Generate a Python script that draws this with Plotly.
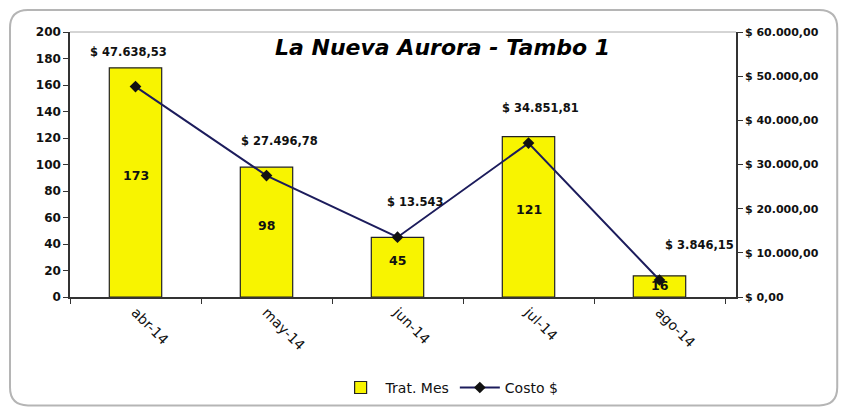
import plotly.graph_objects as go

months = ["abr-14", "may-14", "jun-14", "jul-14", "ago-14"]
trat_mes = [173, 98, 45, 121, 16]
costo = [47638.53, 27496.78, 13543, 34851.81, 3846.15]
costo_labels = ["$ 47.638,53", "$ 27.496,78", "$ 13.543", "$ 34.851,81", "$ 3.846,15"]
left_ticks = [0, 20, 40, 60, 80, 100, 120, 140, 160, 180, 200]
right_ticks = [0, 10000, 20000, 30000, 40000, 50000, 60000]
right_tick_text = ["$ 0,00", "$ 10.000,00", "$ 20.000,00", "$ 30.000,00",
                   "$ 40.000,00", "$ 50.000,00", "$ 60.000,00"]
title_text = "La Nueva Aurora - Tambo 1"

FONT = "DejaVu Sans, Verdana, sans-serif"
AX = "#333333"

fig = go.Figure()
fig.add_trace(go.Bar(
    x=months, y=trat_mes, name="Trat. Mes",
    marker=dict(color="#f8f400", line=dict(color="#222222", width=1.2)),
    yaxis="y",
))
fig.add_trace(go.Scatter(
    x=months, y=costo, name="Costo $", mode="lines+markers",
    line=dict(color="#1c1c5c", width=2),
    marker=dict(symbol="diamond", size=9, color="#111111"),
    yaxis="y2",
))

# bar value labels near bar middle
for m, v in zip(months, trat_mes):
    fig.add_annotation(x=m, y=v / 2, yref="y", text=str(v), showarrow=False,
                       yshift=7 if v > 30 else 1,
                       font=dict(family=FONT, size=12.5, color="#111111", weight="bold"))

xshifts = [-7, 13, 17, 12, 40]
for m, c, t, xs in zip(months, costo, costo_labels, xshifts):
    fig.add_annotation(x=m, y=c, yref="y2", text=t, showarrow=False,
                       xshift=xs, yshift=35,
                       font=dict(family=FONT, size=11.5, color="#111111", weight="bold"))

fig.add_annotation(x=0.56, y=1.0, xref="paper", yref="paper", text=title_text,
                   showarrow=False, yanchor="top", yshift=-1,
                   font=dict(family=FONT, size=22, color="#000000", weight="bold", style="italic"))

# top border line of plot area
fig.add_shape(type="line", xref="paper", yref="paper", x0=0, x1=1, y0=1, y1=1,
              line=dict(color="#aaaaaa", width=1))
# outer rounded frame
x0, x1, y0, y1 = -0.0901, 1.152, -0.409, 1.083
rx, ry = 0.027, 0.068
path = (f"M {x0+rx},{y1} L {x1-rx},{y1} Q {x1},{y1} {x1},{y1-ry} "
        f"L {x1},{y0+ry} Q {x1},{y0} {x1-rx},{y0} L {x0+rx},{y0} "
        f"Q {x0},{y0} {x0},{y0+ry} L {x0},{y1-ry} Q {x0},{y1} {x0+rx},{y1} Z")
fig.add_shape(type="path", xref="paper", yref="paper", path=path,
              line=dict(color="#b5b5b5", width=2))

fig.update_layout(
    width=831, height=399,
    margin=dict(l=62, r=103, t=24, b=110, autoexpand=False),
    paper_bgcolor="white", plot_bgcolor="white",
    bargap=0.6,
    font=dict(family=FONT, size=12, color="#111111"),
    xaxis=dict(showline=True, linecolor=AX, linewidth=1.5, ticks="outside",
               tickson="boundaries",
               tickcolor=AX, ticklen=5, tickangle=45, showgrid=False, automargin=False,
               tickfont=dict(family=FONT, size=14, color="#111111")),
    yaxis=dict(range=[0, 200], tickvals=left_ticks, showline=True, linecolor=AX,
               linewidth=1.5, ticks="outside", tickcolor=AX, ticklen=5,
               showgrid=False, zeroline=False, automargin=False,
               tickfont=dict(family=FONT, size=12, color="#111111", weight="bold")),
    yaxis2=dict(range=[0, 60000], tickvals=right_ticks, ticktext=right_tick_text,
                overlaying="y", side="right", showline=True, linecolor=AX,
                linewidth=1.5, ticks="outside", tickcolor=AX, ticklen=5,
                showgrid=False, zeroline=False, automargin=False,
                tickfont=dict(family=FONT, size=11, color="#111111", weight="bold")),
    legend=dict(orientation="h", x=0.57, xanchor="center", y=-0.343, yanchor="middle",
                font=dict(family=FONT, size=14, color="#111111"), itemwidth=40),
)

fig.write_html("out.html")
